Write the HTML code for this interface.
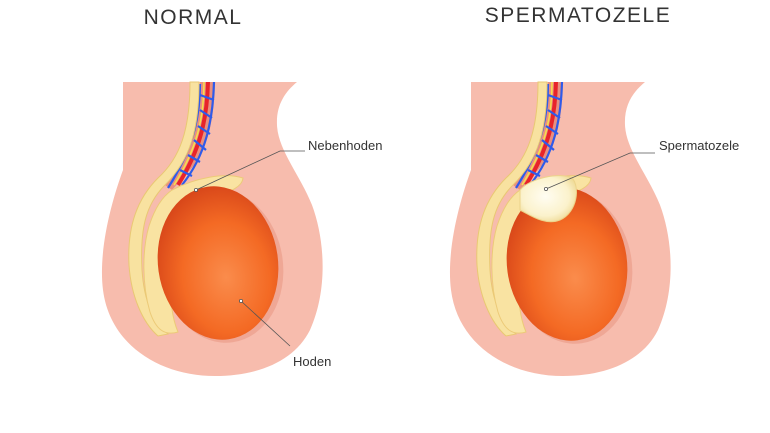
<!DOCTYPE html>
<html><head><meta charset="utf-8"><style>
html,body{margin:0;padding:0;background:#fff;width:770px;height:433px;overflow:hidden}
svg{display:block}
text{font-family:"Liberation Sans","DejaVu Sans",sans-serif;fill:#333}
</style></head><body>
<svg width="770" height="433" viewBox="0 0 770 433">
<defs>
<radialGradient id="t" cx="0.55" cy="0.6" r="0.6">
<stop offset="0" stop-color="#fa8c4c"/><stop offset="0.6" stop-color="#f46a24"/><stop offset="1" stop-color="#d9481a"/>
</radialGradient>
<radialGradient id="s" cx="0.45" cy="0.45" r="0.6">
<stop offset="0" stop-color="#fffdf2"/><stop offset="0.7" stop-color="#fbf2cc"/><stop offset="1" stop-color="#efdb98"/>
</radialGradient>
<g id="fig">
<path d="M123,82 L297,82 C285,92 276,105 277,125 C278,150 300,175 312,205 C325,240 328,290 310,330 C295,360 260,376 215,376 C160,376 110,345 103,290 C98,250 112,200 123,170 Z" fill="#f7bcad"/>
<path d="M200,82 L215,82 C214,120 208,150 190,170 L172,190 L165,185 C185,160 198,130 200,82Z" fill="#e9907f"/>
<path d="M208,82 C207,120 200,150 178,185" stroke="#e8242a" stroke-width="4" fill="none"/>
<path d="M204,82 C204,120 196,150 174,185" stroke="#f7e04a" stroke-width="1.5" fill="none"/>
<path d="M214,82 C213,120 206,155 182,185 M200,84 C200,120 192,150 168,188 M200,95 L214,100 M200,110 L212,118 M198,126 L210,134 M194,140 L206,150 M188,155 L200,162 M180,170 L192,176" stroke="#2f5bea" stroke-width="2.2" fill="none"/>
<path d="M190,82 L199,82 C199,130 190,160 165,185 C145,205 140,230 142,270 C144,300 152,320 168,334 L158,336 C142,322 131,295 129,265 C127,225 138,198 158,178 C180,158 190,130 190,82Z" fill="#f8e2a0" stroke="#e9c873" stroke-width="1"/>
<path d="M172,190 C195,178 225,172 243,178 C242,188 228,192 212,198 C185,212 170,240 170,275 C170,300 172,318 178,332 C165,336 156,330 150,312 C142,285 142,250 149,226 C155,208 162,197 172,190Z" fill="#f9e3a2" stroke="#ecca78" stroke-width="1"/>
</g>
</defs>
<text x="193" y="24" font-size="21" text-anchor="middle" letter-spacing="1.5">NORMAL</text>
<text x="578" y="22" font-size="21" text-anchor="middle" letter-spacing="1.5">SPERMATOZELE</text>

<use href="#fig"/>
<ellipse cx="222" cy="266" rx="61" ry="77" transform="rotate(-8 222 266)" fill="#e99a86" opacity="0.6"/>
<ellipse cx="218" cy="263" rx="60" ry="77" transform="rotate(-8 218 263)" fill="url(#t)"/>
<use href="#fig" transform="translate(348,0)"/>
<ellipse cx="571" cy="267" rx="61" ry="77" transform="rotate(-8 571 267)" fill="#e99a86" opacity="0.6"/>
<ellipse cx="567" cy="264" rx="60" ry="77" transform="rotate(-8 567 264)" fill="url(#t)"/>
<path d="M520,190 C530,178 560,172 572,178 C580,186 578,212 560,220 C545,226 530,215 520,210Z" fill="url(#s)" stroke="#ecd38a"/>

<g stroke="#555" stroke-width="0.8" fill="none">
<path d="M196,190 L280,151 L305,151"/>
<path d="M241,301 L290,346"/>
<path d="M546,189 L630,153 L655,153"/>
</g>
<g fill="#fff" stroke="#555" stroke-width="0.8">
<circle cx="196" cy="190" r="1.6"/><circle cx="241" cy="301" r="1.6"/><circle cx="546" cy="189" r="1.6"/>
</g>
<text x="308" y="150" font-size="13">Nebenhoden</text>
<text x="293" y="366" font-size="13">Hoden</text>
<text x="659" y="150" font-size="13">Spermatozele</text>
</svg>
</body></html>
